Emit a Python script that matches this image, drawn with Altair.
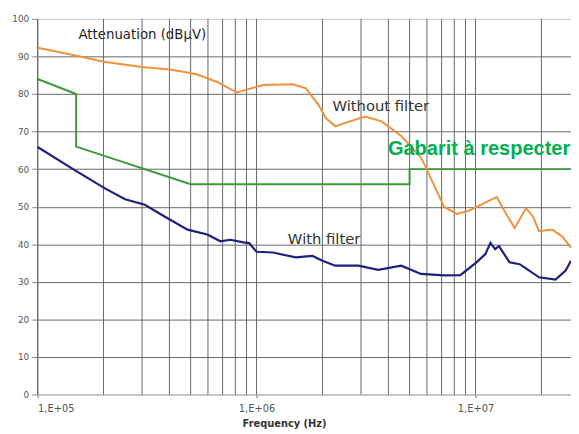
import altair as alt
import pandas as pd

# ---- data ----
orange_freq = [1.00e5, 1.51e5, 2.00e5, 3.00e5, 4.02e5, 4.99e5, 5.37e5, 6.61e5, 8.13e5,
               1.07e6, 1.46e6, 1.68e6, 1.92e6, 2.07e6, 2.29e6, 2.54e6, 3.13e6, 3.72e6,
               4.58e6, 5.64e6, 5.83e6, 6.36e6, 7.18e6, 8.24e6, 9.47e6, 1.09e7, 1.25e7,
               1.36e7, 1.51e7, 1.70e7, 1.83e7, 1.95e7, 2.24e7, 2.49e7, 2.73e7]
orange_db = [92.3, 90.2, 88.6, 87.2, 86.5, 85.6, 85.2, 83.2, 80.4,
             82.4, 82.6, 81.5, 77.1, 73.6, 71.4, 72.3, 74.0, 72.7,
             68.8, 63.1, 61.4, 56.6, 50.0, 48.1, 49.1, 50.9, 52.6,
             48.7, 44.3, 49.6, 47.4, 43.5, 43.9, 42.1, 39.1]

blue_freq = [1.00e5, 1.49e5, 2.04e5, 2.51e5, 3.09e5, 3.80e5, 4.84e5, 5.96e5, 6.84e5,
             7.59e5, 8.71e5, 9.25e5, 1.00e6, 1.19e6, 1.51e6, 1.80e6, 2.00e6, 2.29e6,
             2.92e6, 3.59e6, 4.58e6, 5.64e6, 7.18e6, 8.53e6, 1.01e7, 1.11e7, 1.17e7,
             1.23e7, 1.28e7, 1.43e7, 1.59e7, 1.70e7, 1.95e7, 2.32e7, 2.58e7, 2.73e7]
blue_db = [65.9, 59.6, 54.8, 52.0, 50.5, 47.4, 43.9, 42.6, 40.8,
           41.2, 40.5, 40.3, 38.0, 37.8, 36.5, 36.9, 35.6, 34.3,
           34.3, 33.2, 34.3, 32.1, 31.7, 31.8, 35.2, 37.4, 40.4,
           38.7, 39.5, 35.2, 34.7, 33.6, 31.2, 30.6, 33.0, 35.6]

green_freq = [1.0e5, 1.5e5, 1.5e5, 5.0e5, 5.0e6, 5.0e6, 2.73e7]
green_db = [84, 80, 66, 56, 56, 60, 60]

grid_freq = [k * 10 ** d for d in (5, 6, 7) for k in range(1, 10) if k * 10 ** d <= 2.73e7]
decade_ticks = [1e5, 1e6, 1e7]
y_ticks = list(range(0, 101, 10))

lbl_without = ("Without filter", 2.22e6, 76.9)
lbl_with = ("With filter", 1.39e6, 41.5)
lbl_gabarit = ("Gabarit à respecter", 3.98e6, 65.4)

# ---- build ----
xscale = alt.Scale(type="log", domain=[1e5, 2.73e7], nice=False)
yscale = alt.Scale(domain=[0, 100], nice=False)

def series(freq, db):
    return pd.DataFrame({"f": freq, "v": db, "i": range(len(freq))})

xaxis = alt.Axis(values=decade_ticks, grid=False,
                 labelExpr="'1,E+0' + round(log(datum.value)/LN10)",
                 labelFont="DejaVu Sans", labelFontSize=10, labelColor="#555",
                 tickSize=3, tickColor="#777", labelPadding=6,
                 domainColor="#aaa", title="Frequency (Hz)",
                 titleFont="DejaVu Sans", titleFontSize=10, titleFontWeight="bold",
                 titleColor="#333", titleX=250, titleY=29.5, titleAlign="center",
                 titleBaseline="middle")
yaxis = alt.Axis(values=y_ticks, grid=True,
                 gridColor={"condition": {"test": "datum.value == 100 || datum.value == 0",
                                          "value": "#c8c8c8"}, "value": "#666"},
                 gridWidth=1, tickSize=6, tickColor="#888", labelPadding=3,
                 labelFont="DejaVu Sans", labelFontSize=9, labelColor="#555",
                 domainColor="#999", title="Attenuation (dBµV)", titleAngle=0,
                 titleX=41, titleY=16, titleAlign="left", titleBaseline="middle",
                 titleFont="DejaVu Sans", titleFontSize=13.5, titleFontWeight="normal",
                 titleColor="#222")

grid = alt.Chart(pd.DataFrame({"f": grid_freq})).mark_rule(
    color="#666", strokeWidth=1).encode(
    x=alt.X("f:Q", scale=xscale, axis=xaxis))

def line(freq, db, color, w):
    return alt.Chart(series(freq, db)).mark_line(color=color, strokeWidth=w).encode(
        x=alt.X("f:Q", scale=xscale, axis=xaxis),
        y=alt.Y("v:Q", scale=yscale, axis=yaxis),
        order="i:Q")

green = line(green_freq, green_db, "#3c9a3c", 2)
orange = line(orange_freq, orange_db, "#f0923a", 2)
blue = line(blue_freq, blue_db, "#1f1f7d", 2.2)

def label(item, size, color, weight, font):
    t, f, v = item
    return alt.Chart(pd.DataFrame({"t": [t], "f": [f], "v": [v]})).mark_text(
        align="left", baseline="middle", fontSize=size, color=color,
        fontWeight=weight, font=font).encode(
        x=alt.X("f:Q", scale=xscale, axis=xaxis),
        y=alt.Y("v:Q", scale=yscale, axis=yaxis),
        text="t:N")

t1 = label(lbl_without, 15, "#333", "normal", "DejaVu Sans")
t2 = label(lbl_with, 15, "#333", "normal", "DejaVu Sans")
t3 = label(lbl_gabarit, 20.3, "#00b050", "bold", "Liberation Sans")

chart = alt.layer(grid, green, orange, blue, t1, t2, t3).properties(
    width=541, height=381, autosize="none",
    padding={"left": 30, "top": 8, "right": 0, "bottom": 37},
    background="white",
).configure_view(strokeWidth=0)

chart.save("out.html", embed_options={"renderer": "svg", "actions": False})
